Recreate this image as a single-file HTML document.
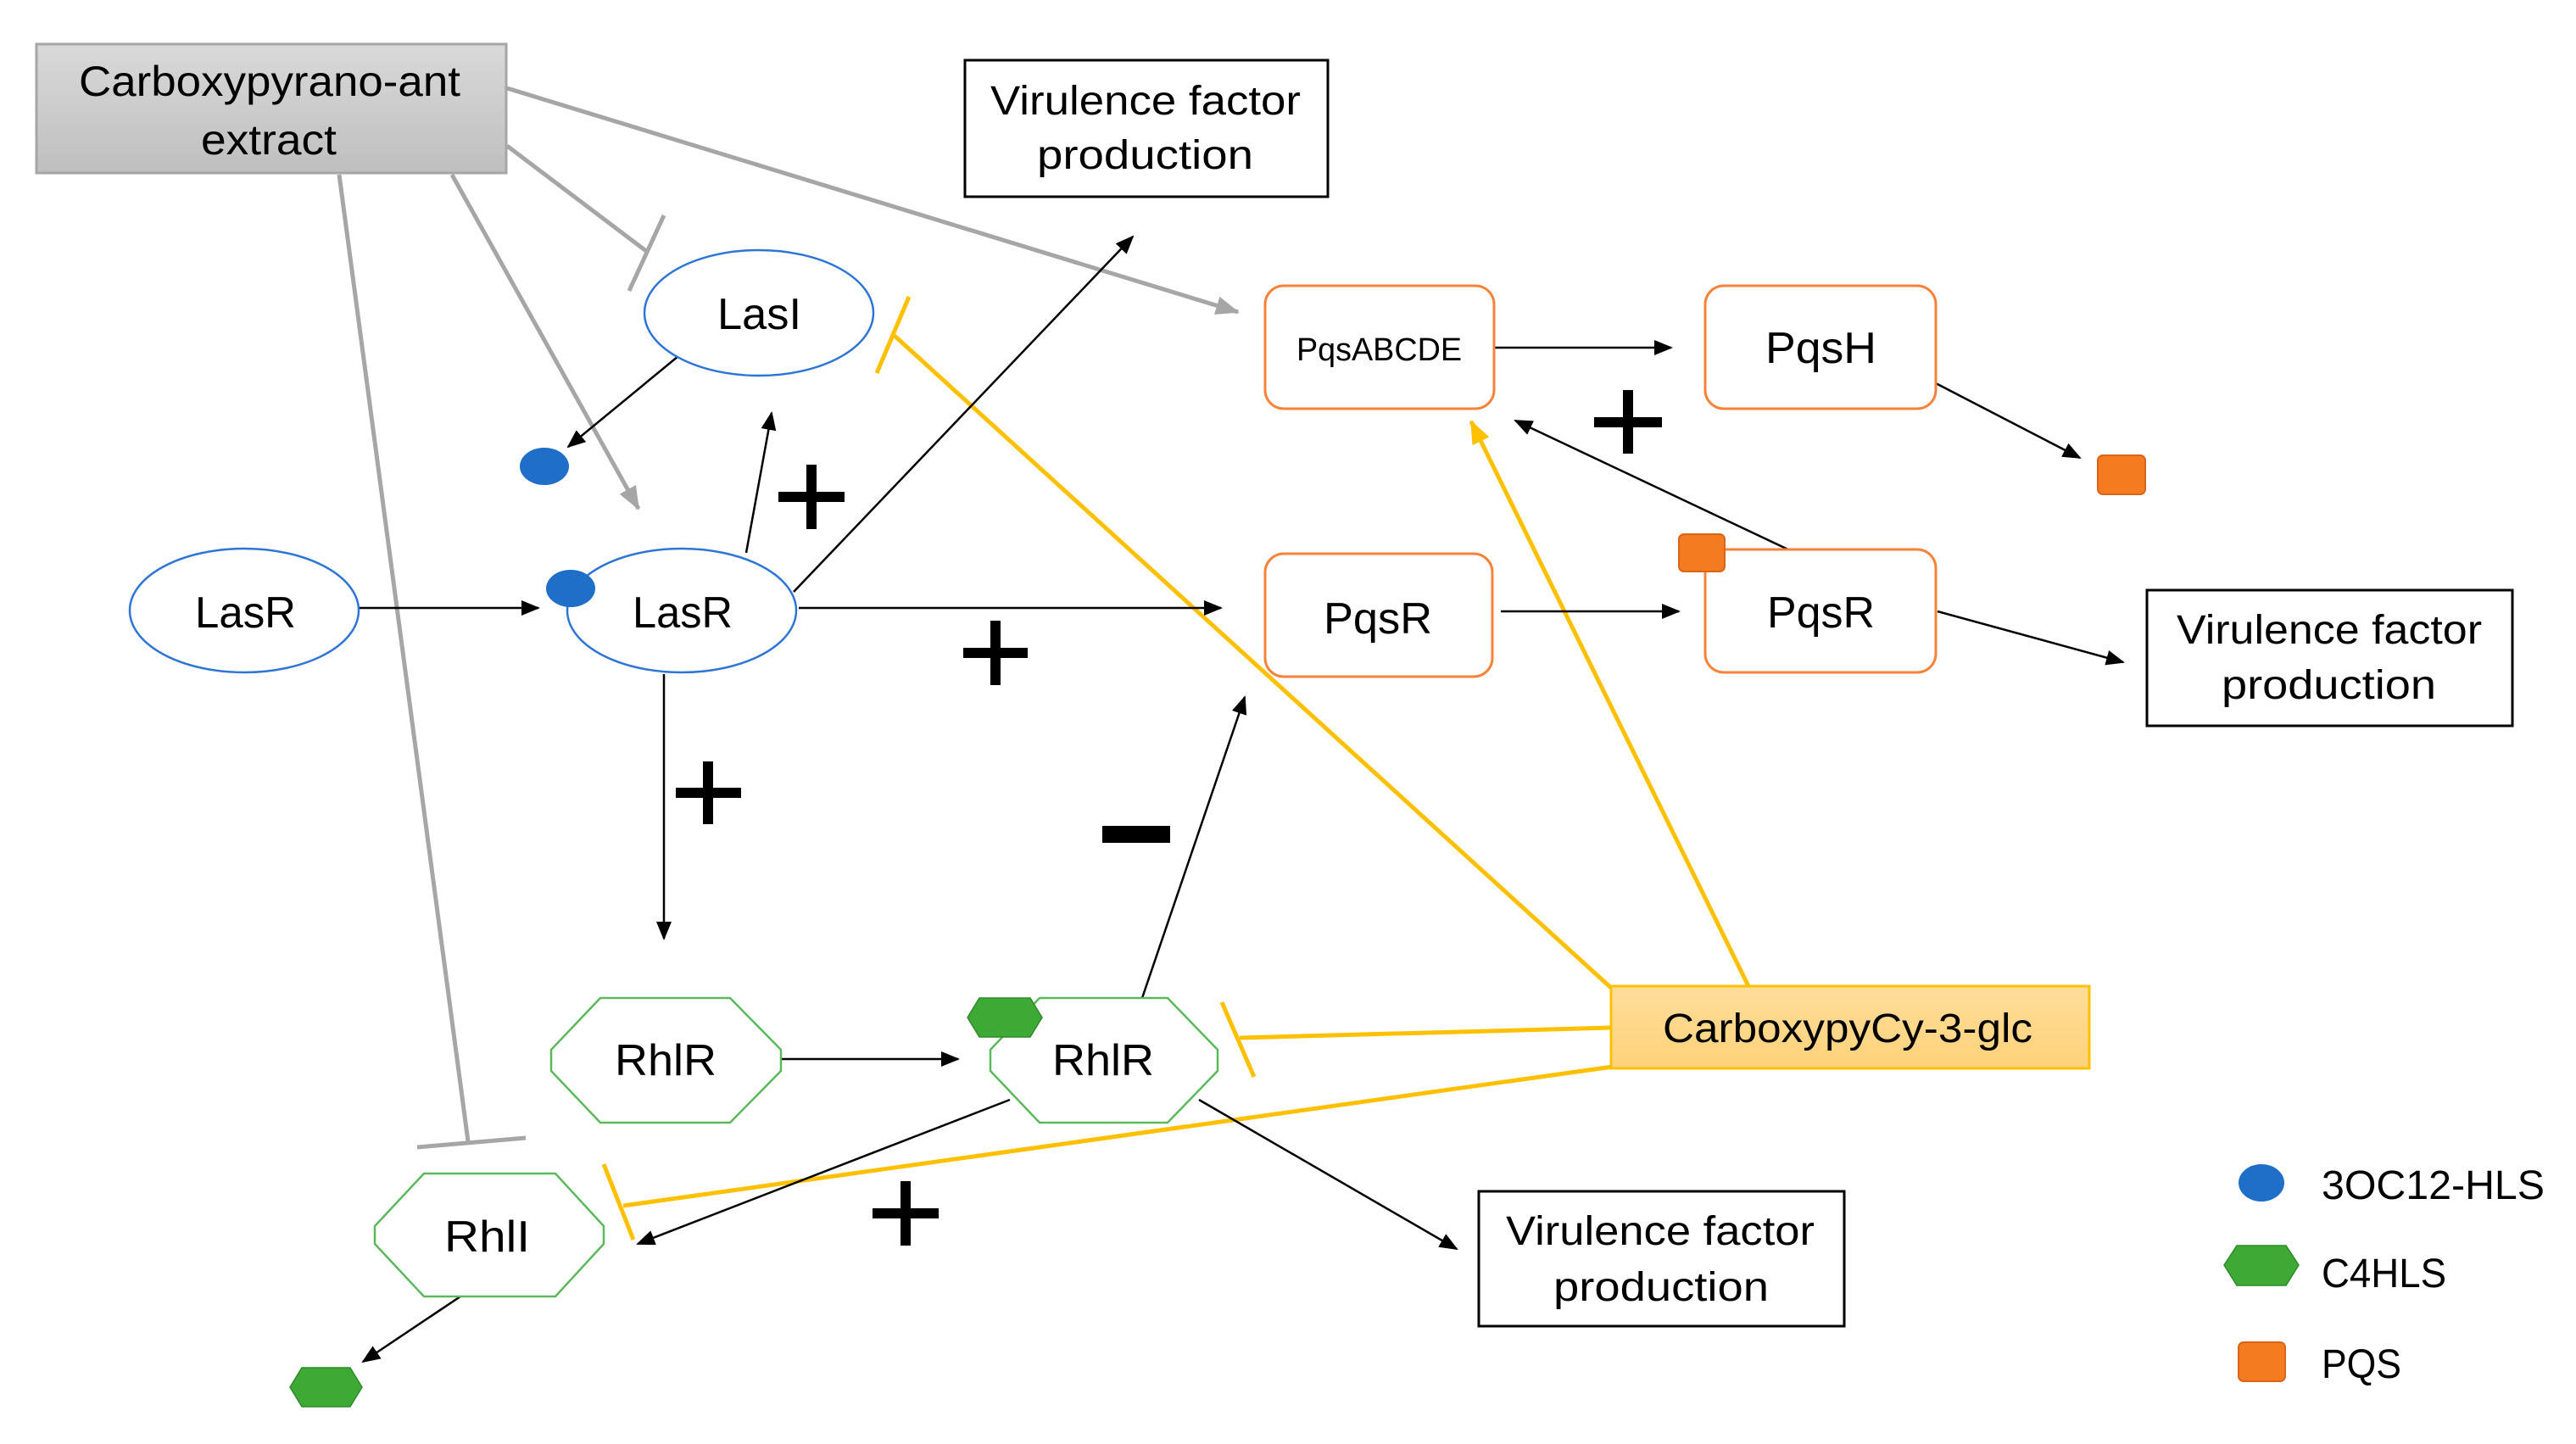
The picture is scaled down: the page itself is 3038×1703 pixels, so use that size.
<!DOCTYPE html>
<html><head><meta charset="utf-8"><style>html,body{margin:0;padding:0;background:#fff}svg{display:block}</style></head>
<body>
<svg width="3038" height="1703" viewBox="0 0 3038 1703" xmlns="http://www.w3.org/2000/svg" font-family="'Liberation Sans', sans-serif">
<defs>
<marker id="abk" markerWidth="22" markerHeight="18" refX="20" refY="9" orient="auto" markerUnits="userSpaceOnUse"><path d="M0,0 L22,9 L0,18 z" fill="#000"/></marker>
<marker id="ag" markerWidth="28" markerHeight="22" refX="26" refY="11" orient="auto" markerUnits="userSpaceOnUse"><path d="M0,0 L28,11 L0,22 z" fill="#a6a6a6"/></marker>
<marker id="ay" markerWidth="28" markerHeight="22" refX="26" refY="11" orient="auto" markerUnits="userSpaceOnUse"><path d="M0,0 L28,11 L0,22 z" fill="#ffc000"/></marker>
<linearGradient id="gg" x1="0" y1="0" x2="0" y2="1"><stop offset="0" stop-color="#d9d9d9"/><stop offset="1" stop-color="#bfbfbf"/></linearGradient>
<linearGradient id="yg" x1="0" y1="0" x2="0" y2="1"><stop offset="0" stop-color="#ffdd9a"/><stop offset="1" stop-color="#ffd27a"/></linearGradient>
</defs>

<g stroke="#a6a6a6" stroke-width="5" fill="none">
<line x1="598" y1="104" x2="1460" y2="368" marker-end="url(#ag)"/>
<line x1="598" y1="172" x2="762" y2="296"/>
<line x1="783" y1="254" x2="742" y2="343"/>
<line x1="533" y1="206" x2="753" y2="600" marker-end="url(#ag)"/>
<line x1="400" y1="206" x2="552" y2="1346"/>
<line x1="492" y1="1353" x2="620" y2="1342"/>
</g>

<g stroke="#ffc000" stroke-width="5" fill="none">
<line x1="1900" y1="1165" x2="1055" y2="396"/>
<line x1="1072" y1="350" x2="1034" y2="440"/>
<line x1="2062" y1="1163" x2="1735" y2="497" marker-end="url(#ay)"/>
<line x1="1900" y1="1212" x2="1462" y2="1224"/>
<line x1="1441" y1="1182" x2="1479" y2="1270"/>
<line x1="1902" y1="1258" x2="735" y2="1422"/>
<line x1="712" y1="1373" x2="747" y2="1462"/>
</g>

<g stroke="#000" stroke-width="2.5" fill="none">
<line x1="422" y1="717" x2="635" y2="717" marker-end="url(#abk)"/>
<line x1="942" y1="717" x2="1440" y2="717" marker-end="url(#abk)"/>
<line x1="880" y1="652" x2="910" y2="487" marker-end="url(#abk)"/>
<line x1="936" y1="698" x2="1336" y2="279" marker-end="url(#abk)"/>
<line x1="800" y1="420" x2="670" y2="527" marker-end="url(#abk)"/>
<line x1="783" y1="795" x2="783" y2="1107" marker-end="url(#abk)"/>
<line x1="921" y1="1249" x2="1130" y2="1249" marker-end="url(#abk)"/>
<line x1="1347" y1="1177" x2="1468" y2="822" marker-end="url(#abk)"/>
<line x1="1191" y1="1297" x2="752" y2="1467" marker-end="url(#abk)"/>
<line x1="1414" y1="1297" x2="1718" y2="1473" marker-end="url(#abk)"/>
<line x1="543" y1="1529" x2="428" y2="1606" marker-end="url(#abk)"/>
<line x1="1762" y1="410" x2="1971" y2="410" marker-end="url(#abk)"/>
<line x1="2283" y1="452" x2="2453" y2="540" marker-end="url(#abk)"/>
<line x1="1770" y1="721" x2="1980" y2="721" marker-end="url(#abk)"/>
<line x1="2113" y1="650" x2="1787" y2="496" marker-end="url(#abk)"/>
<line x1="2285" y1="721" x2="2504" y2="781" marker-end="url(#abk)"/>
</g>

<g fill="#000">
<rect x="918" y="580" width="78" height="12"/><rect x="951" y="548" width="12" height="76"/>
<rect x="1136" y="764" width="76" height="12"/><rect x="1168" y="732" width="12" height="76"/>
<rect x="797" y="929" width="77" height="12"/><rect x="829" y="898" width="12" height="74"/>
<rect x="1300" y="974" width="80" height="20"/>
<rect x="1029" y="1425" width="78" height="12"/><rect x="1062" y="1393" width="12" height="76"/>
<rect x="1880" y="492" width="80" height="12"/><rect x="1914" y="460" width="12" height="75"/>
</g>

<rect x="43" y="52" width="554" height="152" fill="url(#gg)" stroke="#a6a6a6" stroke-width="3"/>
<text x="93" y="113" font-size="50" textLength="450" lengthAdjust="spacingAndGlyphs">Carboxypyrano-ant</text>
<text x="237" y="182" font-size="50" textLength="160" lengthAdjust="spacingAndGlyphs">extract</text>

<g fill="#fff" stroke="#000" stroke-width="3">
<rect x="1138" y="71" width="428" height="161"/>
<rect x="2532" y="696" width="431" height="160"/>
<rect x="1744" y="1405" width="431" height="159"/>
</g>
<g font-size="48" fill="#000">
<text x="1168" y="135" textLength="366" lengthAdjust="spacingAndGlyphs">Virulence factor</text>
<text x="1223" y="199" textLength="255" lengthAdjust="spacingAndGlyphs">production</text>
<text x="2567" y="759" textLength="360" lengthAdjust="spacingAndGlyphs">Virulence factor</text>
<text x="2620" y="824" textLength="253" lengthAdjust="spacingAndGlyphs">production</text>
<text x="1776" y="1468" textLength="364" lengthAdjust="spacingAndGlyphs">Virulence factor</text>
<text x="1832" y="1534" textLength="254" lengthAdjust="spacingAndGlyphs">production</text>
</g>

<g fill="#fff" stroke="#2e75d6" stroke-width="2.5">
<ellipse cx="895" cy="369" rx="135" ry="74"/>
<ellipse cx="288" cy="720" rx="135" ry="73"/>
<ellipse cx="804" cy="720" rx="135" ry="73"/>
</g>
<g fill="#1f6fc8">
<ellipse cx="642" cy="550" rx="29" ry="22"/>
<ellipse cx="673" cy="694" rx="29" ry="22"/>
<ellipse cx="2667" cy="1395" rx="27" ry="22"/>
</g>
<g font-size="52" fill="#000">
<text x="846" y="388" textLength="99" lengthAdjust="spacingAndGlyphs">LasI</text>
<text x="230" y="740" textLength="119" lengthAdjust="spacingAndGlyphs">LasR</text>
<text x="746" y="740" textLength="118" lengthAdjust="spacingAndGlyphs">LasR</text>
</g>

<g fill="#fff" stroke="#f7823a" stroke-width="3">
<rect x="1492" y="337" width="270" height="145" rx="22"/>
<rect x="2011" y="337" width="272" height="145" rx="22"/>
<rect x="1492" y="653" width="268" height="145" rx="22"/>
<rect x="2011" y="648" width="272" height="145" rx="22"/>
</g>
<g fill="#f47b20" stroke="#d8651a" stroke-width="2">
<rect x="2474" y="537" width="56" height="46" rx="6"/>
<rect x="1980" y="630" width="54" height="44" rx="6"/>
<rect x="2640" y="1583" width="55" height="46" rx="6"/>
</g>
<g font-size="52" fill="#000">
<text x="1529" y="425" font-size="38" textLength="195" lengthAdjust="spacingAndGlyphs">PqsABCDE</text>
<text x="2082" y="428" textLength="131" lengthAdjust="spacingAndGlyphs">PqsH</text>
<text x="1561" y="747" textLength="128" lengthAdjust="spacingAndGlyphs">PqsR</text>
<text x="2084" y="740" textLength="127" lengthAdjust="spacingAndGlyphs">PqsR</text>
</g>

<g fill="#fff" stroke="#5cb85c" stroke-width="2.5">
<polygon points="708,1177 861,1177 921,1238 921,1263 861,1324 708,1324 650,1263 650,1238"/>
<polygon points="1226,1177 1377,1177 1436,1238 1436,1263 1377,1324 1226,1324 1168,1263 1168,1238"/>
<polygon points="500,1384 655,1384 712,1446 712,1467 655,1529 500,1529 442,1467 442,1446"/>
</g>
<g fill="#3ea935" stroke="#2e8a2a" stroke-width="1.5">
<polygon points="1155,1177 1215,1177 1229,1200 1215,1223 1155,1223 1141,1200"/>
<polygon points="356,1613 413,1613 427,1636 413,1659 356,1659 342,1636"/>
<polygon points="2638,1469 2696,1469 2711,1492 2696,1516 2638,1516 2623,1492"/>
</g>
<g font-size="52" fill="#000">
<text x="725" y="1268" textLength="120" lengthAdjust="spacingAndGlyphs">RhlR</text>
<text x="1241" y="1268" textLength="120" lengthAdjust="spacingAndGlyphs">RhlR</text>
<text x="524" y="1476" textLength="101" lengthAdjust="spacingAndGlyphs">RhlI</text>
</g>

<rect x="1900" y="1163" width="564" height="97" fill="url(#yg)" stroke="#ffc000" stroke-width="3"/>
<text x="1961" y="1229" font-size="48" textLength="436" lengthAdjust="spacingAndGlyphs">CarboxypyCy-3-glc</text>

<g font-size="48" fill="#000">
<text x="2738" y="1414" textLength="263" lengthAdjust="spacingAndGlyphs">3OC12-HLS</text>
<text x="2738" y="1518" textLength="147" lengthAdjust="spacingAndGlyphs">C4HLS</text>
<text x="2738" y="1625" textLength="94" lengthAdjust="spacingAndGlyphs">PQS</text>
</g>
</svg>
</body></html>
